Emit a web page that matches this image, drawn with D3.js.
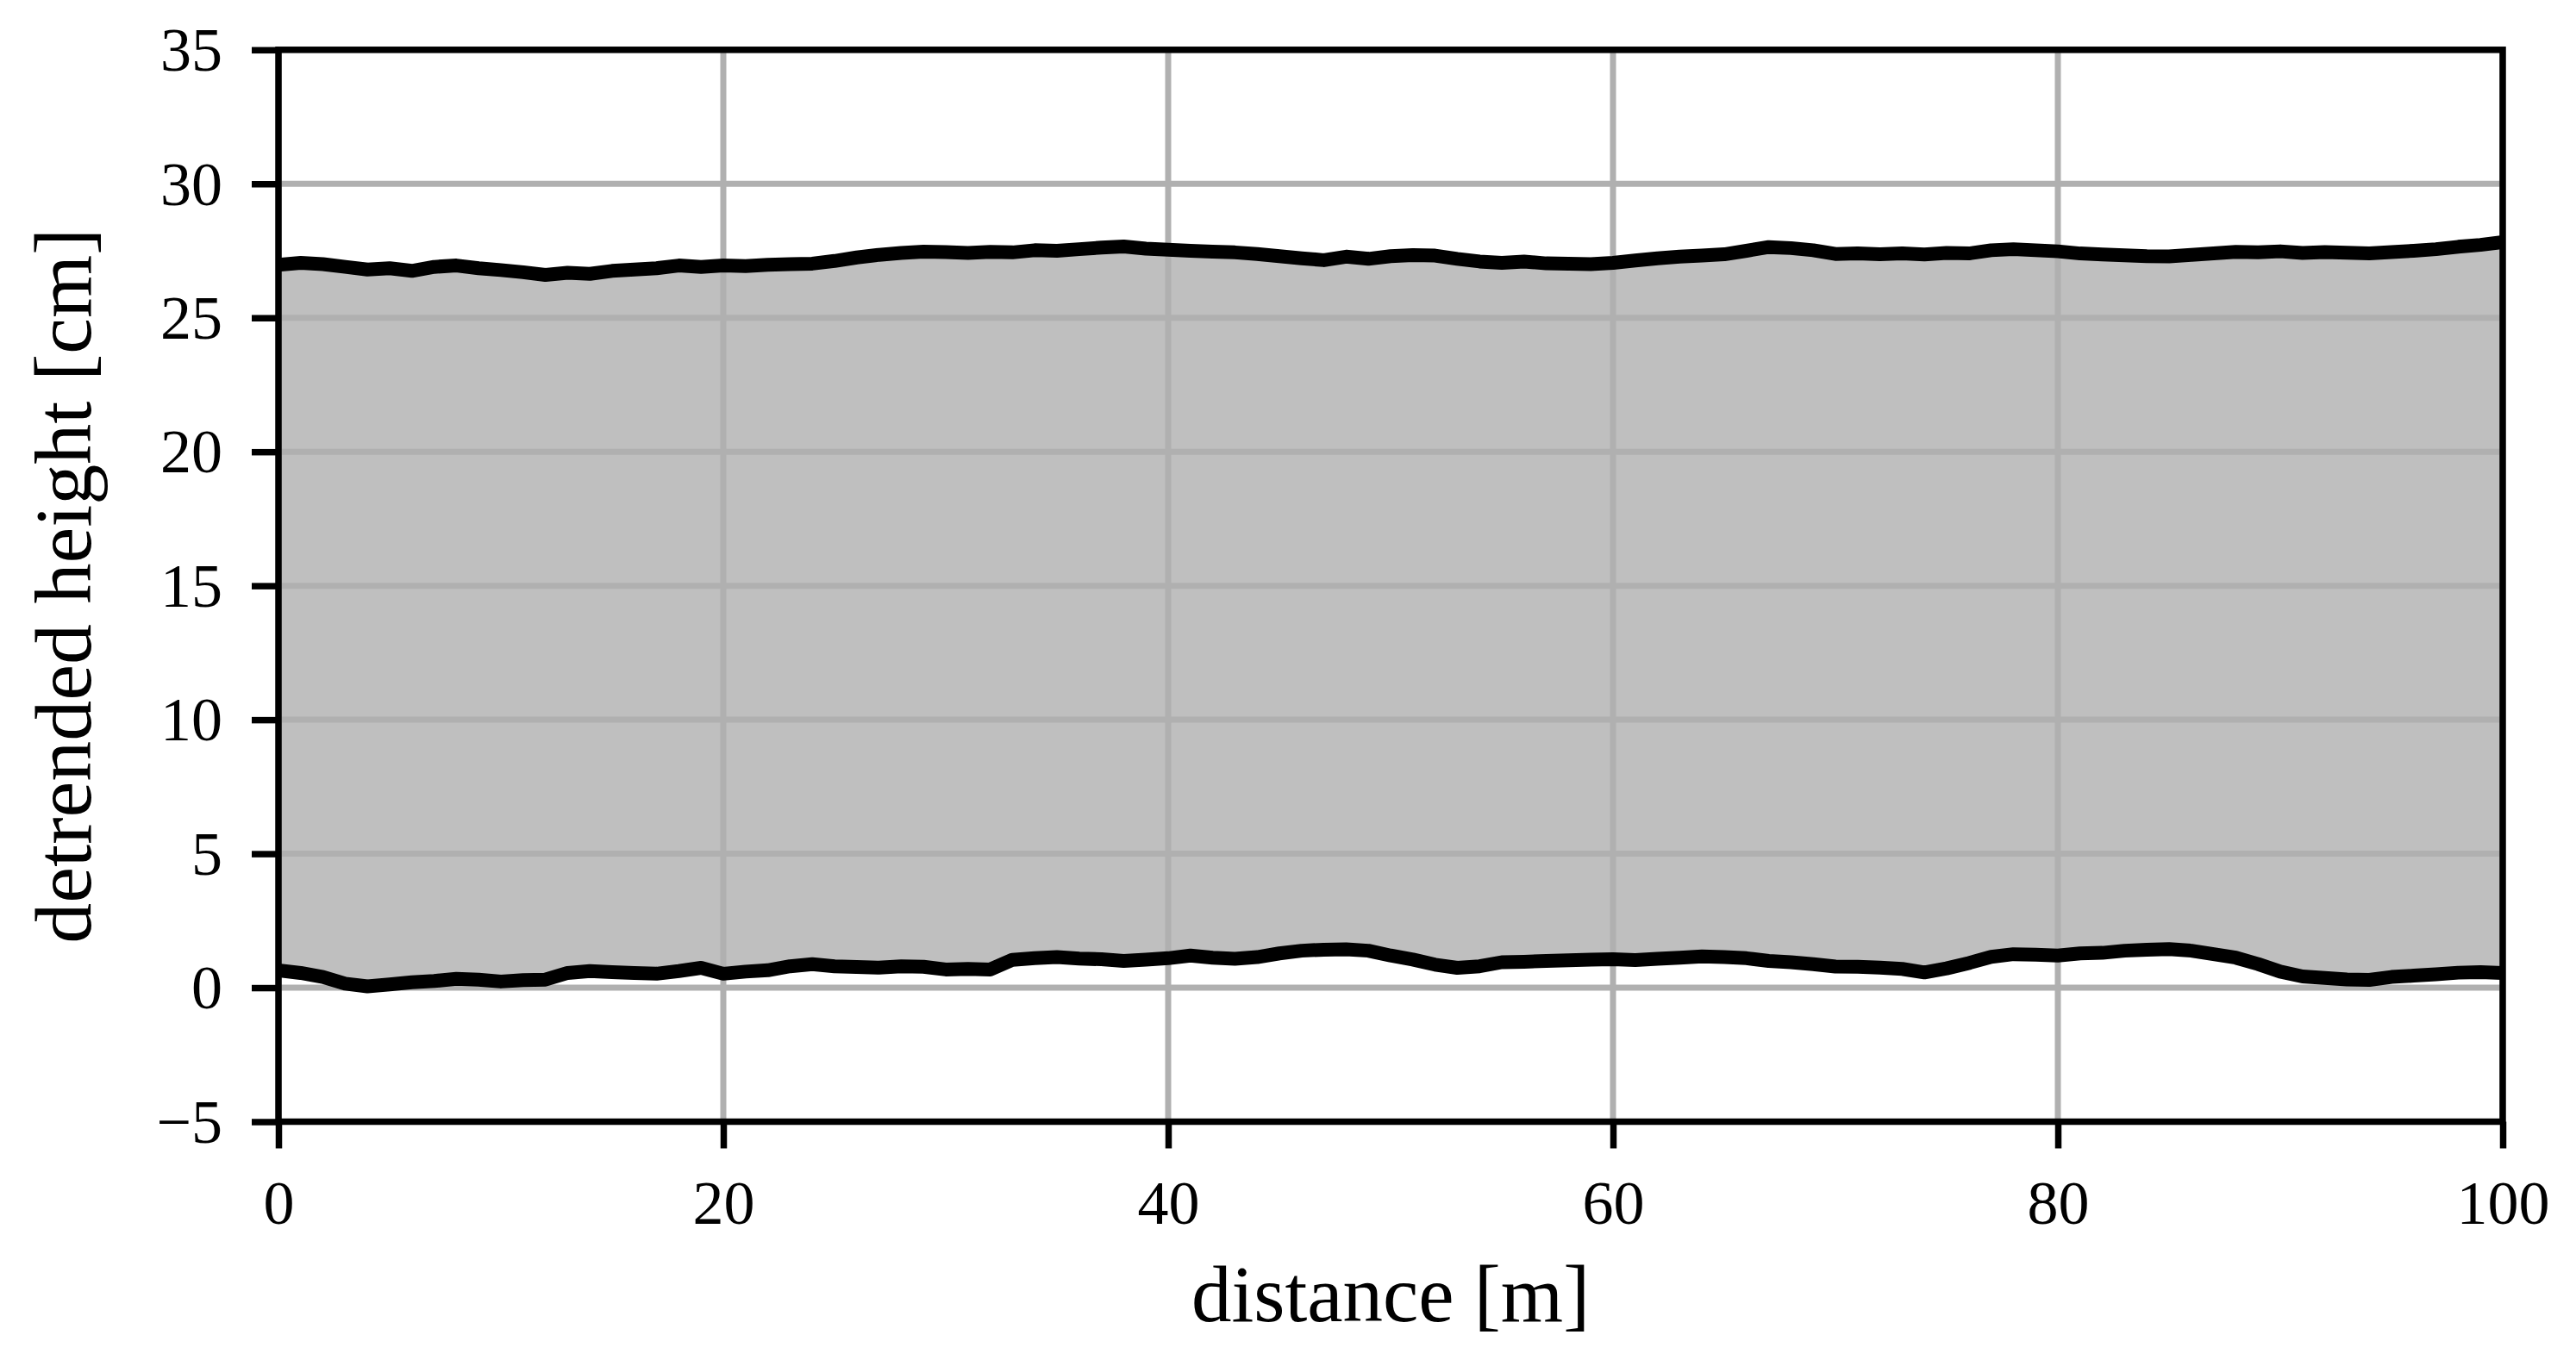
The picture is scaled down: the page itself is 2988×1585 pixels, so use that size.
<!DOCTYPE html>
<html>
<head>
<meta charset="utf-8">
<script src="https://cdn.jsdelivr.net/npm/d3@7"></script>
<style>
  body { margin: 0; background: #ffffff; }
  text { font-family: "Liberation Serif", "DejaVu Serif", serif; fill: #000; }
</style>
</head>
<body>
<div id="zone_graphique"></div>
<script>
var largeur = 2988;
var hauteur = 1585;

// distance le long du profil [m]
var distance = [];
for (var i = 0; i <= 100; i++) distance.push(i);

// hauteur de la bordure basse [cm], une valeur par metre
var bordBas = [
  0.65, 0.55, 0.40, 0.15, 0.05, 0.12, 0.20, 0.25, 0.33, 0.30,
  0.23, 0.28, 0.30, 0.55, 0.62, 0.58, 0.55, 0.52, 0.62, 0.74,
  0.52, 0.60, 0.65, 0.80, 0.88, 0.80, 0.77, 0.75, 0.80, 0.78,
  0.68, 0.70, 0.68, 1.04, 1.10, 1.14, 1.09, 1.06, 1.00, 1.05,
  1.10, 1.20, 1.12, 1.08, 1.14, 1.28, 1.38, 1.42, 1.43, 1.38,
  1.20, 1.05, 0.86, 0.74, 0.80, 0.95, 0.97, 1.00, 1.02, 1.05,
  1.06, 1.03, 1.08, 1.12, 1.17, 1.14, 1.10, 1.00, 0.95, 0.88,
  0.79, 0.78, 0.75, 0.70, 0.57, 0.72, 0.92, 1.15, 1.25, 1.23,
  1.20, 1.28, 1.30, 1.38, 1.42, 1.44, 1.38, 1.25, 1.12, 0.88,
  0.60, 0.42, 0.36, 0.31, 0.29, 0.40, 0.45, 0.50, 0.56, 0.58,
  0.55
];

// hauteur de la bordure haute [cm]
var bordHaut = [
  26.98, 27.05, 27.00, 26.90, 26.80, 26.85, 26.75, 26.90, 26.95, 26.85,
  26.78, 26.70, 26.60, 26.68, 26.64, 26.75, 26.80, 26.85, 26.95, 26.90,
  26.95, 26.93, 26.98, 27.00, 27.02, 27.12, 27.25, 27.35, 27.42, 27.47,
  27.45, 27.42, 27.46, 27.44, 27.52, 27.50, 27.56, 27.62, 27.66, 27.58,
  27.54, 27.50, 27.47, 27.44, 27.38, 27.30, 27.22, 27.15, 27.28, 27.20,
  27.30, 27.34, 27.32, 27.20, 27.10, 27.05, 27.10, 27.03, 27.02, 27.00,
  27.05, 27.14, 27.22, 27.28, 27.32, 27.37, 27.50, 27.64, 27.60, 27.52,
  27.38, 27.40, 27.37, 27.40, 27.36, 27.42, 27.40, 27.52, 27.56, 27.52,
  27.48, 27.40, 27.36, 27.33, 27.30, 27.29, 27.35, 27.40, 27.46, 27.44,
  27.48, 27.42, 27.45, 27.43, 27.40, 27.45, 27.50, 27.56, 27.65, 27.72,
  27.82
];

var ticksX = [0, 20, 40, 60, 80, 100];
var ticksY = [-5, 0, 5, 10, 15, 20, 25, 30, 35];

// marges du graph
var marge = {haut: 57.8, droite: 85, bas: 283.5, gauche: 323},
    width = largeur - marge.gauche - marge.droite,
    height = hauteur - marge.haut - marge.bas;

var svg = d3.select("#zone_graphique")
    .append("svg")
        .attr("width", largeur)
        .attr("height", hauteur)
    .append("g")
        .attr("transform", "translate(" + marge.gauche + "," + marge.haut + ")");

var x = d3.scaleLinear().domain([0, 100]).range([0, width]);
var y = d3.scaleLinear().domain([-5, 35]).range([height, 0]);

var donnees = distance.map(function (d, i) {
    return {x: d, bas: bordBas[i], haut: bordHaut[i]};
});

svg.append("defs").append("clipPath")
    .attr("id", "clip")
    .append("rect")
        .attr("width", width)
        .attr("height", height);

var zone = svg.append("g").attr("clip-path", "url(#clip)");

// remplissage entre les deux bordures
zone.append("path")
    .datum(donnees)
    .attr("d", d3.area()
        .x(function (d) { return x(d.x); })
        .y0(function (d) { return y(d.bas); })
        .y1(function (d) { return y(d.haut); }))
    .style("fill", "#bfbfbf");

// grille
zone.selectAll(".grilleX")
    .data(ticksX)
    .enter()
    .append("line")
        .attr("x1", function (d) { return x(d); })
        .attr("x2", function (d) { return x(d); })
        .attr("y1", 0)
        .attr("y2", height)
        .style("stroke", "#b0b0b0")
        .style("stroke-width", 7);

zone.selectAll(".grilleY")
    .data(ticksY)
    .enter()
    .append("line")
        .attr("x1", 0)
        .attr("x2", width)
        .attr("y1", function (d) { return y(d); })
        .attr("y2", function (d) { return y(d); })
        .style("stroke", "#b0b0b0")
        .style("stroke-width", 7);

// les deux bordures
["bas", "haut"].forEach(function (cle) {
    zone.append("path")
        .datum(donnees)
        .attr("d", d3.line()
            .x(function (d) { return x(d.x); })
            .y(function (d) { return y(d[cle]); }))
        .style("fill", "none")
        .style("stroke", "#000")
        .style("stroke-width", 16)
        .style("stroke-linejoin", "round")
        .style("stroke-linecap", "round");
});

// axes
var xAxis = svg.append("g")
    .attr("transform", "translate(0," + height + ")")
    .call(d3.axisBottom(x).tickValues(ticksX).tickSize(31).tickPadding(36));

var yAxis = svg.append("g")
    .call(d3.axisLeft(y).tickValues(ticksY).tickSize(31).tickPadding(34)
        .tickFormat(function (d) { return d < 0 ? "\u2212" + Math.abs(d) : d; }));

[xAxis, yAxis].forEach(function (a) {
    a.select(".domain").remove();
    a.selectAll(".tick line").style("stroke", "#000").style("stroke-width", 7.5);
    a.selectAll(".tick text")
        .style("font-family", "'Liberation Serif', serif")
        .style("font-size", "72px")
        .style("fill", "#000");
});
xAxis.selectAll(".tick text").attr("dy", "0.71em");
yAxis.selectAll(".tick text").attr("dy", "0.33em");

// cadre
svg.append("rect")
    .attr("width", width)
    .attr("height", height)
    .style("fill", "none")
    .style("stroke", "#000")
    .style("stroke-width", 7.5);

// titres des axes
svg.append("text")
    .attr("x", width / 2)
    .attr("y", 1533 - marge.haut)
    .attr("text-anchor", "middle")
    .style("font-size", "93px")
    .text("distance [m]");

svg.append("text")
    .attr("transform", "translate(" + (105 - marge.gauche) + "," + (height / 2) + ") rotate(-90)")
    .attr("text-anchor", "middle")
    .style("font-size", "94px")
    .text("detrended height [cm]");
</script>
</body>
</html>
